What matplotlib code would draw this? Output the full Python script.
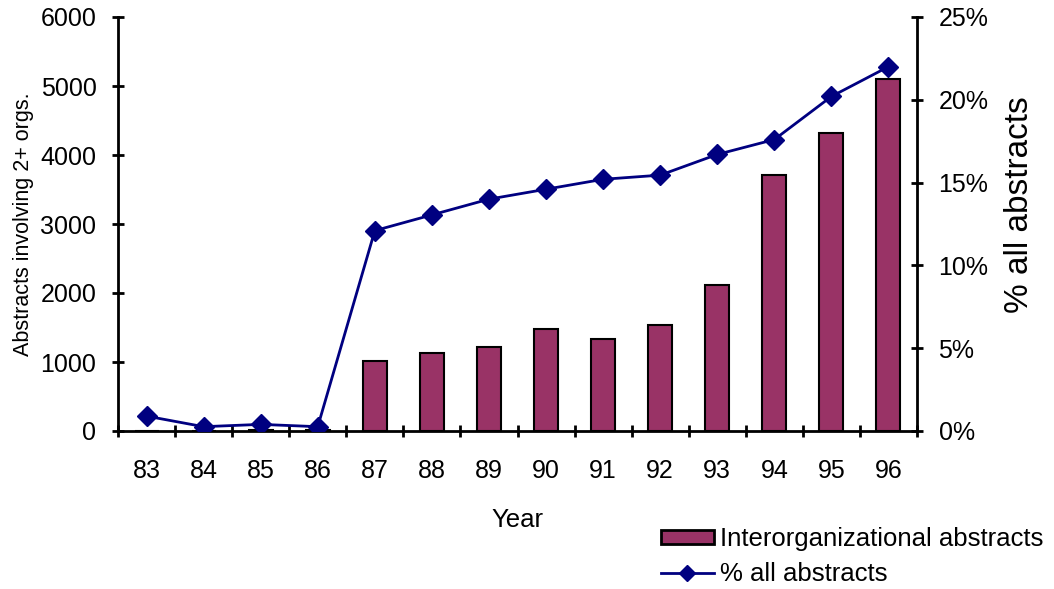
import matplotlib
matplotlib.use("Agg")
import matplotlib.pyplot as plt
from matplotlib.ticker import FixedLocator, NullFormatter, FuncFormatter
from matplotlib.patches import Patch
from matplotlib.lines import Line2D

plt.rcParams['font.family'] = ['Liberation Sans', 'DejaVu Sans']

years = ['83', '84', '85', '86', '87', '88', '89', '90', '91', '92', '93', '94', '95', '96']
interorg_abstracts = [0, 0, 20, 12, 1010, 1125, 1215, 1475, 1330, 1535, 2110, 3705, 4315, 5095]
pct_all_abstracts = [0.9, 0.26, 0.4, 0.26, 12.1, 13.05, 14.0, 14.6, 15.2, 15.45, 16.7, 17.6, 20.2, 22.0]

bar_color = '#993366'
line_color = '#000080'

fig = plt.figure(figsize=(10.54, 5.89), dpi=100)
ax = fig.add_axes([118 / 1054, 1 - 431 / 589, (917 - 118) / 1054, (431 - 17) / 589])
ax2 = ax.twinx()

x = list(range(len(years)))
ax.bar(x, interorg_abstracts, width=0.42, color=bar_color, edgecolor='black',
       linewidth=1.5, zorder=2)
ax2.plot(x, pct_all_abstracts, color=line_color, linewidth=2, marker='D',
         markersize=10, markerfacecolor=line_color, markeredgecolor=line_color, zorder=3)

ax.set_xlim(-0.5, len(years) - 0.5)
ax.set_ylim(0, 6000)
ax2.set_ylim(0, 25)

# spines
for a in (ax, ax2):
    a.spines['top'].set_visible(False)
    for s in a.spines.values():
        s.set_linewidth(2)
ax.spines['right'].set_visible(False)
ax2.spines['left'].set_visible(False)
ax2.spines['bottom'].set_visible(False)

# x ticks at category boundaries, labels at centres
ax.xaxis.set_major_locator(FixedLocator([i - 0.5 for i in range(len(years) + 1)]))
ax.xaxis.set_major_formatter(NullFormatter())
ax.xaxis.set_minor_locator(FixedLocator(x))
ax.set_xticklabels(years, minor=True)
ax.tick_params(axis='x', which='major', direction='inout', length=9, width=2)
ax.tick_params(axis='x', which='minor', length=0, pad=20, labelsize=18)

ax.set_yticks(range(0, 6001, 1000))
ax.tick_params(axis='y', direction='inout', length=9, width=2, labelsize=18, pad=11)
ax2.set_yticks(range(0, 26, 5))
ax2.yaxis.set_major_formatter(FuncFormatter(lambda v, p: f"{int(v)}%"))
ax2.tick_params(axis='y', direction='inout', length=9, width=2, labelsize=18, pad=11)

ax.set_xlabel('Year', fontsize=18.5, labelpad=18)
ax.set_ylabel('Abstracts involving 2+ orgs.', fontsize=15.5, labelpad=5)
ax2.set_ylabel('% all abstracts', fontsize=24, labelpad=10)
ax2.yaxis.set_label_coords(1.109, 0.546)

ax.set_zorder(1)
ax2.set_zorder(2)
ax.patch.set_visible(False)

handles = [
    Patch(facecolor=bar_color, edgecolor='black', linewidth=2),
    Line2D([0], [0], color=line_color, linewidth=2, marker='D', markersize=8,
           markerfacecolor=line_color, markeredgecolor=line_color),
]
labels = ['Interorganizational abstracts', '% all abstracts']
fig.legend(handles, labels, loc='upper left', bbox_to_anchor=(661 / 1054, 1 - 527 / 589),
           frameon=False, fontsize=18.5, handlelength=2.05, handleheight=0.5,
           handletextpad=0.25, labelspacing=0.42, borderaxespad=0, borderpad=0)

fig.savefig('out.png', dpi=100)
